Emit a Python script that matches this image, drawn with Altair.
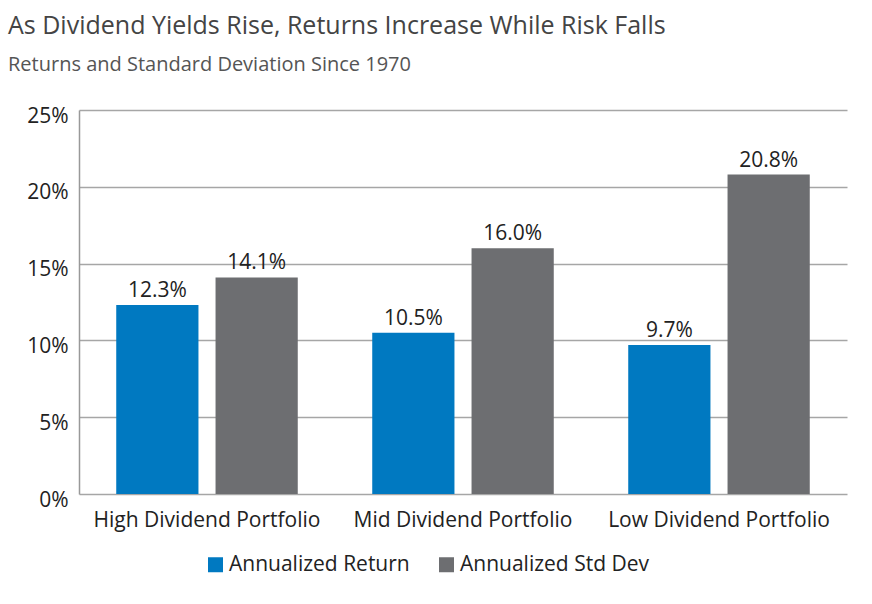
import altair as alt
import pandas as pd

categories = ["High Dividend Portfolio", "Mid Dividend Portfolio", "Low Dividend Portfolio"]
series = ["Annualized Return", "Annualized Std Dev"]
annualized_return = [12.3, 10.5, 9.7]
annualized_std_dev = [14.1, 16.0, 20.8]
y_ticks = [0, 5, 10, 15, 20, 25]
colors = ["#0079C1", "#6D6E71"]

rows = []
for i, c in enumerate(categories):
    for s, vals in zip(series, [annualized_return, annualized_std_dev]):
        rows.append({"portfolio": c, "series": s, "value": vals[i], "label": f"{vals[i]:.1f}%"})
df = pd.DataFrame(rows)

FONT = "Open Sans"

x = alt.X(
    "portfolio:N", sort=categories,
    scale=alt.Scale(paddingInner=0, paddingOuter=0),
    axis=alt.Axis(title=None, labelAngle=0, ticks=False, domain=False, labelLimit=0,
                  labelFontSize=21, labelPadding=15, labelColor="#222"),
)
xo = alt.XOffset("series:N", sort=series,
                 scale=alt.Scale(paddingInner=0.172, paddingOuter=0.375))
y = alt.Y(
    "value:Q", scale=alt.Scale(domain=[0, 25], nice=False),
    axis=alt.Axis(values=y_ticks, title=None, labelExpr="datum.value + '%'",
                  ticks=False, domain=True, domainColor="#999999", domainWidth=1.5,
                  gridColor="#a6a6a6", gridWidth=1.5,
                  labelFontSize=21, labelPadding=11, labelColor="#222", labelOffset=6),
)
color = alt.Color(
    "series:N", sort=series,
    scale=alt.Scale(domain=series, range=colors),
    legend=alt.Legend(title=None, orient="none", legendX=126, legendY=444,
                      direction="horizontal", symbolType="square", symbolSize=225,
                      symbolStrokeWidth=0, labelFontSize=21, labelColor="#222",
                      labelLimit=0, columnPadding=26, padding=0, labelOffset=3),
)

base = alt.Chart(df)
bars = base.mark_bar().encode(x=x, xOffset=xo, y=y, color=color)
labels = base.mark_text(baseline="bottom", dy=-4, fontSize=21, color="#222").encode(
    x=x, xOffset=xo, y=y, text="label:N"
)

chart = (
    alt.layer(bars, labels)
    .properties(
        width=768, height=384,
        autosize=alt.AutoSizeParams(type="none"),
        padding={"left": 79, "top": 110, "right": 25, "bottom": 110},
        title=alt.TitleParams(
            text="As Dividend Yields Rise, Returns Increase While Risk Falls",
            subtitle="Returns and Standard Deviation Since 1970",
            anchor="start", frame="group", dx=-71, offset=30,
            fontSize=25, fontWeight="normal", color="#444444",
            subtitleFontSize=20, subtitleColor="#555555", subtitlePadding=16,
            font=FONT, subtitleFont=FONT,
        ),
    )
    .configure(font=FONT)
    .configure_view(stroke=None)
)

chart.save("out.html", embed_options={"renderer": "svg", "actions": False})
